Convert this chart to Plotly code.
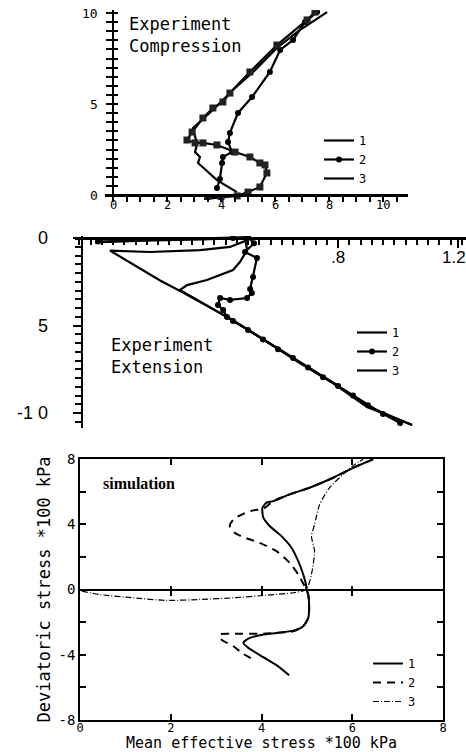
import plotly.graph_objects as go

W, H = 466, 752

# ---------------- data: panel 1 (Experiment, compression) ----------------
comp1_x = [4.59, 3.85, 3.15, 3.22, 3.04, 3.11, 2.96, 3.70, 4.44, 5.19, 6.07, 6.93, 7.93]
comp1_y = [0.16, 0.82, 1.76, 2.09, 2.36, 2.80, 3.68, 4.67, 5.77, 6.76, 8.08, 9.07, 10.05]

comp2_x = [3.85, 3.96, 4.04, 4.07, 4.41, 4.26, 4.33, 4.63, 5.15, 5.81, 6.19, 6.67, 7.11, 7.56]
comp2_y = [0.38, 0.88, 1.76, 2.09, 2.36, 2.91, 3.41, 4.51, 5.38, 6.76, 7.97, 8.52, 9.51, 10.05]

comp3_x = [3.50, 4.00, 4.60, 5.00, 5.44, 5.70, 5.63, 5.44, 5.07, 4.52, 3.85, 3.33, 3.04, 2.74,
           2.93, 3.33, 3.70, 4.07, 4.33, 5.07, 6.07, 7.19, 7.48]
comp3_y = [-0.20, -0.15, -0.05, 0.16, 0.44, 1.21, 1.65, 1.76, 2.09, 2.36, 2.75, 2.86, 2.86, 3.02,
           3.46, 4.23, 4.78, 5.11, 5.60, 6.76, 8.24, 9.62, 10.05]

# ---------------- data: panel 2 (Experiment, extension) ----------------
ext1_x = [-0.01, 0.15, 0.35, 0.49, 0.497, 0.473, 0.45, 0.363, 0.297, 0.273, 0.45, 0.673, 0.783, 0.897, 1.047]
ext1_y = [-0.25, -0.15, -0.08, 0.0, -0.69, -1.37, -1.83, -2.40, -2.69, -2.97, -4.72, -7.10, -8.25, -9.60, -10.69]

ext2_x = [0.00, 0.45, 0.50, 0.52, 0.49, 0.53, 0.517, 0.507, 0.513, 0.497, 0.44, 0.407, 0.40,
          0.417, 0.43, 0.45, 0.50, 0.55, 0.60, 0.65, 0.70, 0.75, 0.80, 0.85, 0.90, 0.95, 1.007]
ext2_y = [-0.20, 0.00, 0.05, -0.30, -0.80, -1.14, -2.23, -2.91, -3.14, -3.43, -3.54, -3.43, -3.83,
          -4.11, -4.51, -4.74, -5.25, -5.80, -6.35, -6.85, -7.40, -7.95, -8.45, -9.00, -9.55, -10.05, -10.57]

ext3_x = [0.497, 0.49, 0.44, 0.34, 0.173, 0.04, 0.207, 0.28, 0.45, 0.673, 0.783, 0.897, 1.047]
ext3_y = [0.0, -0.17, -0.51, -0.69, -0.80, -0.72, -2.43, -3.09, -4.69, -7.14, -8.29, -9.66, -10.69]

# ---------------- data: panel 3 (simulation) ----------------
sim1_x = [6.46, 6.02, 5.58, 5.06, 4.62, 4.26, 4.11, 4.02, 4.04, 4.18, 4.44, 4.66, 4.81, 4.92, 4.98, 4.99,
          5.03, 5.05, 5.03, 4.92, 4.70, 4.33, 3.96, 3.71, 3.60, 3.71, 4.04, 4.33, 4.61]
sim1_y = [7.98, 7.46, 6.85, 6.24, 5.83, 5.42, 5.32, 5.01, 4.40, 3.89, 3.27, 2.56, 1.74, 0.92, 0.31, 0.0,
          -0.31, -1.12, -1.74, -2.25, -2.52, -2.66, -2.80, -3.01, -3.27, -3.58, -4.15, -4.64, -5.26]

sim2_x = [6.46, 6.02, 5.58, 5.06, 4.62, 4.26, 4.04, 3.82, 3.60, 3.38, 3.30, 3.41, 3.60, 3.96, 4.33, 4.62,
          4.81, 4.93, 4.99, 5.03, 5.05, 5.03, 4.92, 4.70, 4.11, 3.38, 3.08, 3.12, 3.38, 3.60, 3.82]
sim2_y = [7.98, 7.46, 6.85, 6.24, 5.83, 5.42, 4.95, 4.85, 4.64, 4.29, 3.89, 3.48, 3.21, 2.86, 2.35, 1.64,
          0.92, 0.31, 0.0, -0.31, -1.12, -1.74, -2.25, -2.56, -2.70, -2.72, -2.76, -3.07, -3.48, -3.95, -4.29]

sim3_x = [0.04, 0.44, 1.17, 1.91, 2.64, 3.38, 4.11, 4.70, 4.99, 5.10, 5.17, 5.10, 5.17, 5.28, 5.50, 5.80, 6.06, 6.24]
sim3_y = [-0.10, -0.31, -0.51, -0.67, -0.61, -0.51, -0.35, -0.20, 0.0, 0.92, 2.35, 3.27, 3.99, 5.21, 6.24, 7.06, 7.67, 7.98]

series_names = ["1", "2", "3"]

# tick labels
p1_xticks = [0, 2, 4, 6, 8, 10]
p1_yticks = [0, 5, 10]
p2_xticks = [0.8, 1.2]
p2_xtext = [".8", "1.2"]
p2_yticks = [0, -5, -10]
p2_ytext = ["0", "5", "-1 0"]
p3_xticks = [0, 2, 4, 6, 8]
p3_zero_ticks = [2, 4, 6]
p3_yticks = [-8, -6, -4, -2, 0, 2, 4, 6, 8]
p3_ytext = ["-8", "", "-4", "", "0", "", "4", "", "8"]


def fx(p):
    return p / W


def fy(p):
    return 1 - p / H


MONO = "DejaVu Sans Mono"
SANS = "Liberation Sans"
BLACK = "black"

fig = go.Figure()

# ---- panel 1 traces ----
fig.add_trace(go.Scatter(x=comp1_x, y=comp1_y, mode="lines", name=series_names[0],
                         line=dict(color=BLACK, width=2.2), xaxis="x", yaxis="y", legend="legend"))
fig.add_trace(go.Scatter(x=comp2_x, y=comp2_y, mode="lines+markers", name=series_names[1],
                         line=dict(color=BLACK, width=2.2), marker=dict(symbol="circle", size=6, color=BLACK),
                         xaxis="x", yaxis="y", legend="legend"))
fig.add_trace(go.Scatter(x=comp3_x, y=comp3_y, mode="lines", name=series_names[2],
                         line=dict(color=BLACK, width=2.2), xaxis="x", yaxis="y", legend="legend"))
fig.add_trace(go.Scatter(x=comp3_x, y=comp3_y, mode="markers", showlegend=False,
                         marker=dict(symbol="square", size=7, color="#222"), xaxis="x", yaxis="y"))
# helper empty traces for overlay tick axes
fig.add_trace(go.Scatter(x=[], y=[], xaxis="x", yaxis="y4", showlegend=False))
fig.add_trace(go.Scatter(x=[], y=[], xaxis="x6", yaxis="y3", showlegend=False))

# ---- panel 2 traces ----
fig.add_trace(go.Scatter(x=ext1_x, y=ext1_y, mode="lines", name=series_names[0],
                         line=dict(color=BLACK, width=2.2), xaxis="x2", yaxis="y2", legend="legend2"))
fig.add_trace(go.Scatter(x=ext2_x, y=ext2_y, mode="lines+markers", name=series_names[1],
                         line=dict(color=BLACK, width=2.2), marker=dict(symbol="circle", size=6, color=BLACK),
                         xaxis="x2", yaxis="y2", legend="legend2"))
fig.add_trace(go.Scatter(x=ext3_x, y=ext3_y, mode="lines", name=series_names[2],
                         line=dict(color=BLACK, width=2.2), xaxis="x2", yaxis="y2", legend="legend2"))

# ---- panel 3 traces ----
fig.add_trace(go.Scatter(x=sim1_x, y=sim1_y, mode="lines", name=series_names[0],
                         line=dict(color=BLACK, width=2, shape="spline", smoothing=0.6),
                         xaxis="x3", yaxis="y3", legend="legend3"))
fig.add_trace(go.Scatter(x=sim2_x, y=sim2_y, mode="lines", name=series_names[1],
                         line=dict(color=BLACK, width=2, dash="8px,6px", shape="spline", smoothing=0.6),
                         xaxis="x3", yaxis="y3", legend="legend3"))
fig.add_trace(go.Scatter(x=sim3_x, y=sim3_y, mode="lines", name=series_names[2],
                         line=dict(color=BLACK, width=1.2, dash="6px,2px,1px,2px", shape="spline", smoothing=0.6),
                         xaxis="x3", yaxis="y3", legend="legend3"))

legend_common = dict(font=dict(family=MONO, size=12, color=BLACK), bgcolor="rgba(0,0,0,0)",
                     borderwidth=0, xanchor="left", yanchor="top", itemwidth=30, tracegroupgap=0,
                     itemclick=False, itemdoubleclick=False)

# panel 1 geometry: x 0 at px113, 27 px/unit; y 0 at py195, 18.2 px/unit
p1x0, p1sx = 113, 27.0
p1y0, p1sy = 195, 18.2
# panel 2 geometry: x 0 at px98, 300 px/unit; y 0 at py238, 17.5 px/unit
p2x0, p2sx = 98, 300.0
p2y0, p2sy = 238, 17.5
# panel 3 box (pixels)
p3_left, p3_right, p3_top, p3_bottom = 80, 443, 459, 720
p3_zero_py = (p3_top + p3_bottom) / 2

# tick labels of the two experiment panels, placed on the axes' own scales
tick_annots = []
for v in p1_xticks:
    tick_annots.append(dict(text=str(v), x=v, xref="x", y=fy(205), yref="paper", showarrow=False,
                            xanchor="center", yanchor="middle", font=dict(family=MONO, size=12, color=BLACK)))
for v in p1_yticks:
    tick_annots.append(dict(text=str(v), x=fx(100), xref="paper", y=v, yref="y", showarrow=False,
                            xanchor="right", yanchor="middle", font=dict(family=MONO, size=13, color=BLACK)))
for v, t in zip(p2_xticks, p2_xtext):
    tick_annots.append(dict(text=t, x=v, xref="x2", y=fy(257), yref="paper", showarrow=False,
                            xanchor="center", yanchor="middle", xshift=-4 if v > 1 else 0,
                            font=dict(family=SANS, size=17, color=BLACK)))
for v, t in zip(p2_yticks, p2_ytext):
    tick_annots.append(dict(text=t, x=fx(50), xref="paper", y=v, yref="y2", showarrow=False,
                            xanchor="right", yanchor="middle", font=dict(family=SANS, size=18, color=BLACK)))

fig.update_layout(
    width=W, height=H,
    margin=dict(l=0, r=0, t=0, b=0, autoexpand=False),
    paper_bgcolor="white", plot_bgcolor="white",
    font=dict(family=MONO, size=14, color=BLACK),
    showlegend=True,
    # ---- panel 1 ----
    xaxis=dict(domain=[fx(105), fx(408)], range=[(105 - p1x0) / p1sx, (408 - p1x0) / p1sx],
               anchor="free", position=fy(p1y0), showline=True, linewidth=3, linecolor=BLACK,
               ticks="outside", ticklen=5, tickwidth=1.5, tickcolor=BLACK,
               tickvals=p1_xticks, showticklabels=False,
               minor=dict(dtick=0.5, ticks="outside", ticklen=5, tickwidth=1.5, tickcolor=BLACK),
               showgrid=False, zeroline=False, automargin=False),
    yaxis=dict(domain=[fy(200), fy(10)], range=[(p1y0 - 200) / p1sy, (p1y0 - 10) / p1sy],
               anchor="free", position=fx(p1x0), showline=True, linewidth=2, linecolor=BLACK,
               ticks="outside", ticklen=6, tickwidth=2, tickcolor=BLACK,
               tickvals=p1_yticks, showticklabels=False,
               minor=dict(dtick=0.5, ticks="outside", ticklen=6, tickwidth=2, tickcolor=BLACK),
               showgrid=False, zeroline=False, automargin=False),
    yaxis4=dict(overlaying="y", domain=[fy(200), fy(10)], range=[(p1y0 - 200) / p1sy, (p1y0 - 10) / p1sy],
                anchor="free", position=fx(p1x0), side="left", showline=False,
                ticks="inside", ticklen=4, tickwidth=2, tickcolor=BLACK, tickvals=p1_yticks,
                showticklabels=False,
                minor=dict(dtick=0.5, ticks="inside", ticklen=4, tickwidth=2, tickcolor=BLACK),
                showgrid=False, zeroline=False, automargin=False),
    # ---- panel 2 ----
    xaxis2=dict(domain=[fx(75), fx(466)], range=[(75 - p2x0) / p2sx, (466 - p2x0) / p2sx],
                anchor="free", position=fy(p2y0), side="bottom", showline=True, linewidth=3, linecolor=BLACK,
                ticks="outside", ticklen=8, tickwidth=1.5, tickcolor=BLACK,
                tickvals=p2_xticks, showticklabels=False,
                minor=dict(tick0=0.8, dtick=0.0375, ticks="outside", ticklen=5, tickwidth=1.5, tickcolor=BLACK),
                showgrid=False, zeroline=False, automargin=False),
    yaxis2=dict(domain=[fy(428), fy(236)], range=[(p2y0 - 428) / p2sy, (p2y0 - 236) / p2sy],
                anchor="free", position=fx(82), showline=True, linewidth=2, linecolor=BLACK,
                ticks="outside", ticklen=8, tickwidth=2, tickcolor=BLACK,
                tickvals=p2_yticks, showticklabels=False,
                minor=dict(dtick=0.5, ticks="outside", ticklen=6, tickwidth=1.5, tickcolor=BLACK),
                showgrid=False, zeroline=False, automargin=False),
    # ---- panel 3 ----
    xaxis3=dict(domain=[fx(p3_left), fx(p3_right)], range=[0, 8], anchor="y3",
                showline=True, linewidth=1.5, linecolor=BLACK, mirror="ticks",
                ticks="inside", ticklen=6, tickwidth=1.5, tickcolor=BLACK,
                tickvals=p3_xticks, tickfont=dict(family=MONO, size=12), ticklabelstandoff=-4,
                title=dict(text="Mean effective stress *100 kPa", font=dict(family=MONO, size=15), standoff=0),
                showgrid=False, zeroline=False, automargin=False),
    xaxis6=dict(overlaying="x3", domain=[fx(p3_left), fx(p3_right)], range=[0, 8],
                anchor="free", position=fy(p3_zero_py - 5), side="bottom", showline=False,
                ticks="outside", ticklen=10, tickwidth=1.5, tickcolor=BLACK,
                tickvals=p3_zero_ticks, showticklabels=False,
                showgrid=False, zeroline=False, automargin=False),
    yaxis3=dict(domain=[fy(p3_bottom), fy(p3_top)], range=[-8, 8], anchor="x3",
                showline=True, linewidth=1.5, linecolor=BLACK, mirror="ticks",
                ticks="inside", ticklen=6, tickwidth=1.5, tickcolor=BLACK,
                tickvals=p3_yticks, ticktext=p3_ytext, tickfont=dict(family=MONO, size=14),
                title=dict(text="Deviatoric stress *100 kPa", font=dict(family=MONO, size=17), standoff=4),
                showgrid=False, zeroline=True, zerolinecolor=BLACK, zerolinewidth=1.5, automargin=False),
    legend=dict(x=fx(319), y=fy(126), **legend_common),
    legend2=dict(x=fx(352), y=fy(318), **legend_common),
    legend3=dict(x=fx(368), y=fy(649), **legend_common),
    annotations=tick_annots + [
        dict(text="Experiment<br>Compression", x=fx(127), y=fy(12), xref="paper", yref="paper",
             xanchor="left", yanchor="top", align="left", showarrow=False,
             font=dict(family=MONO, size=17, color=BLACK)),
        dict(text="Experiment<br>Extension", x=fx(109), y=fy(333), xref="paper", yref="paper",
             xanchor="left", yanchor="top", align="left", showarrow=False,
             font=dict(family=MONO, size=17, color=BLACK)),
        dict(text="<b>simulation</b>", x=fx(101), y=fy(483), xref="paper", yref="paper",
             xanchor="left", yanchor="middle", showarrow=False,
             font=dict(family="Liberation Serif", size=16, color=BLACK)),
    ],
)

fig.write_html("out.html", config={"displayModeBar": False},
               post_script="document.body.style.margin='0';document.body.style.overflow='hidden';")
